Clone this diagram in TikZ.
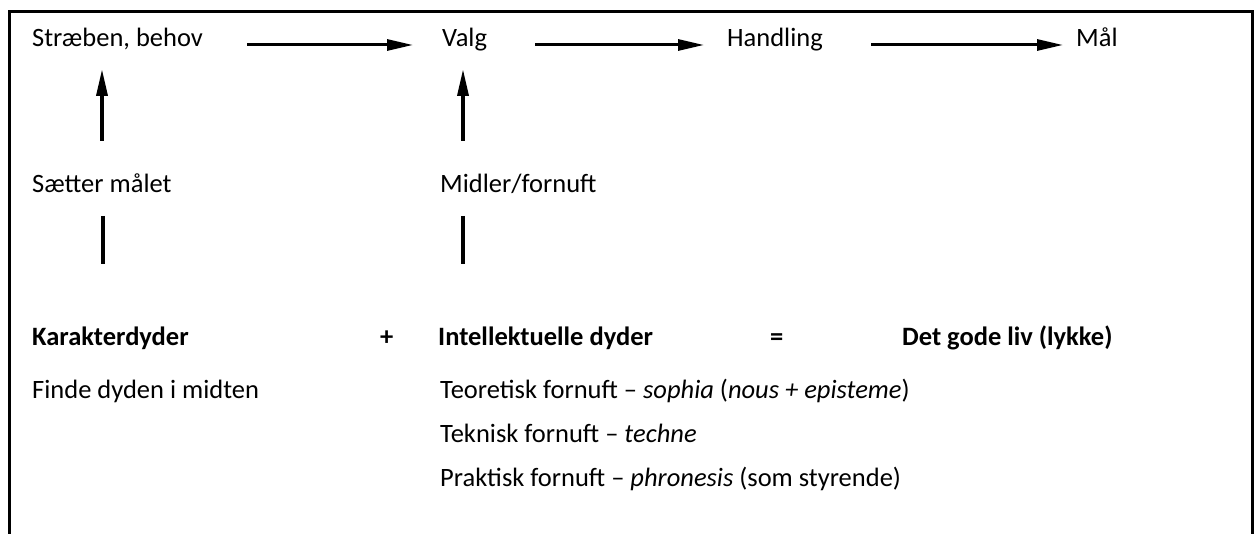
\documentclass[tikz,border=0pt]{standalone}
\usepackage{fontspec}
\setmainfont{Carlito}
\usetikzlibrary{arrows.meta}
\begin{document}
\begin{tikzpicture}[x=1pt,y=-1pt,
  txt/.style={anchor=base west,inner sep=0pt,font=\fontsize{26.5}{32}\selectfont},
  btxt/.style={txt,font=\fontsize{26.5}{32}\selectfont\bfseries},
  harr/.style={line width=3pt,-{Triangle[length=26pt,width=11pt]}},
  varr/.style={line width=3.5pt,-{Triangle[length=27pt,width=11pt]}},
  vline/.style={line width=3.5pt},
  frame/.style={line width=3pt}]
\useasboundingbox (0,0) rectangle (1255,534);
\draw[frame] (9.5,534) -- (9.5,11.5) -- (1252.5,11.5) -- (1252.5,534);
% top row
\node[txt] (strab) at (32,47) {Stræben, behov};
\node[txt] (valg) at (442,47) {Valg};
\node[txt] (hand) at (727,47) {Handling};
\node[txt] (maal) at (1076,47) {Mål};
\coordinate (a1s) at (247,45); \coordinate (a1e) at (413,45);
\coordinate (a2s) at (535,45); \coordinate (a2e) at (704,45);
\coordinate (a3s) at (871,45); \coordinate (a3e) at (1063,45);
\draw[harr] (a1s) -- (a1e);
\draw[harr] (a2s) -- (a2e);
\draw[harr] (a3s) -- (a3e);
% second row
\node[txt] (saet) at (32,193) {Sætter målet};
\node[txt] (midl) at (440,193) {Midler/fornuft};
\coordinate (u1s) at (102,141); \coordinate (u1e) at (102,69);
\coordinate (u2s) at (463,141); \coordinate (u2e) at (463,69);
\draw[varr] (u1s) -- (u1e);
\draw[varr] (u2s) -- (u2e);
\coordinate (l1s) at (103,216); \coordinate (l1e) at (103,264);
\coordinate (l2s) at (463,216); \coordinate (l2e) at (463,264);
\draw[vline] (l1s) -- (l1e);
\draw[vline] (l2s) -- (l2e);
% third row
\node[btxt] (kar) at (32,345) {Karakterdyder};
\node[btxt] (plus) at (380,345) {+};
\node[btxt] (intel) at (438,345) {Intellektuelle dyder};
\node[btxt] (eq) at (770,345) {=};
\node[btxt] (liv) at (902,345) {Det gode liv (lykke)};
% lists
\node[txt] (finde) at (32,398) {Finde dyden i midten};
\node[txt] (teor) at (440,398) {Teoretisk fornuft – \textit{sophia} (\textit{nous + episteme})};
\node[txt] (tekn) at (440,442) {Teknisk fornuft – \textit{techne}};
\node[txt] (prak) at (440,486) {Praktisk fornuft – \textit{phronesis} (som styrende)};
\end{tikzpicture}
\end{document}
